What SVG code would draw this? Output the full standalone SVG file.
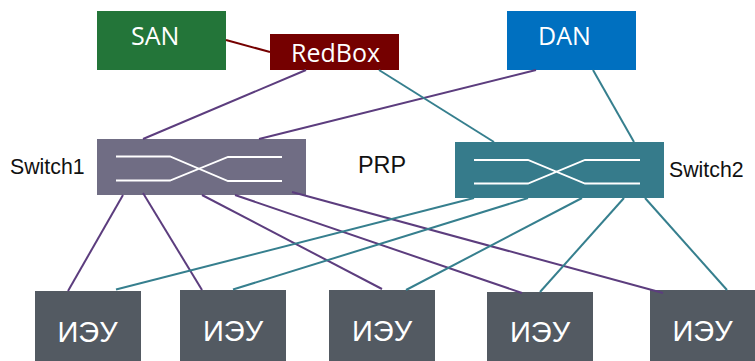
<svg xmlns="http://www.w3.org/2000/svg" width="755" height="361" viewBox="0 0 755 361">
<style>
.ot{font-family:"Open Sans","Noto Sans",sans-serif;fill:#fff;font-size:25px}
.lb{font-family:"Liberation Sans",Arial,sans-serif;fill:#111;font-size:21.300px}
.ied rect{fill:#535a62}
.ied text{font-family:"Liberation Sans",Arial,sans-serif;fill:#fff;font-size:29px;text-anchor:middle}
.sym{fill:none;stroke:#fff;stroke-width:1.800}
.p{stroke:#5c3d7e;stroke-width:2;fill:none}
.t{stroke:#367f8e;stroke-width:2;fill:none}
</style>
<g id="SAN"><rect x="97" y="11" width="129" height="59" fill="#237539"/><text class="ot" x="131" y="45">SAN</text></g>
<g id="RedBox"><rect x="270" y="34" width="129" height="36" fill="#750000"/><text class="ot" x="291" y="62">RedBox</text></g>
<g id="DAN"><rect x="507" y="11" width="129" height="59" fill="#0070c0"/><text class="ot" x="538" y="45">DAN</text></g>
<g id="Switch1"><rect x="97" y="139" width="209" height="56" fill="#706d84"/>
<path class="sym" d="M116 156.500H170L228 181H282M116 180.500H170L228 157H282"/>
<text class="lb" x="10" y="174">Switch1</text></g>
<g id="Switch2"><rect x="455" y="142" width="209" height="56" fill="#367b8b"/>
<path class="sym" d="M474 160H528L585 183.500H640M474 183.500H528L585 160H640"/>
<text class="lb" x="669" y="177">Switch2</text></g>
<g id="PRP"><text class="lb" x="358" y="173" style="font-size:23.400px">PRP</text></g>
<g id="IED1" class="ied"><rect x="35" y="291" width="106" height="70"/><text x="87.500" y="341.500">ИЭУ</text></g>
<g id="IED2" class="ied"><rect x="180" y="290" width="106" height="71"/><text x="233" y="340.500">ИЭУ</text></g>
<g id="IED3" class="ied"><rect x="329" y="290" width="106" height="71"/><text x="382" y="340.500">ИЭУ</text></g>
<g id="IED4" class="ied"><rect x="487" y="292" width="106" height="69"/><text x="540" y="342">ИЭУ</text></g>
<g id="IED5" class="ied"><rect x="650" y="290" width="105" height="71"/><text x="702.500" y="341">ИЭУ</text></g>
<g id="connectors">
<line x1="226" y1="40" x2="270" y2="52" stroke="#750000" stroke-width="2"/>
<line class="p" x1="306" y1="70" x2="143" y2="139"/>
<line class="p" x1="536" y1="70" x2="259" y2="139"/>
<line class="p" x1="123" y1="195" x2="68" y2="291"/>
<line class="p" x1="143" y1="193" x2="202" y2="290"/>
<line class="p" x1="202" y1="195" x2="382" y2="289"/>
<line class="p" x1="235" y1="195" x2="522" y2="293"/>
<line class="p" x1="292" y1="192" x2="663" y2="293"/>
<line class="t" x1="379" y1="70" x2="494" y2="142"/>
<line class="t" x1="593" y1="70" x2="634" y2="142"/>
<line class="t" x1="474" y1="198" x2="116" y2="289.500"/>
<line class="t" x1="528" y1="198" x2="233" y2="289.500"/>
<line class="t" x1="582" y1="198" x2="406" y2="290"/>
<line class="t" x1="624" y1="198" x2="540" y2="292"/>
<line class="t" x1="645" y1="198" x2="727" y2="290"/>
</g>
</svg>
